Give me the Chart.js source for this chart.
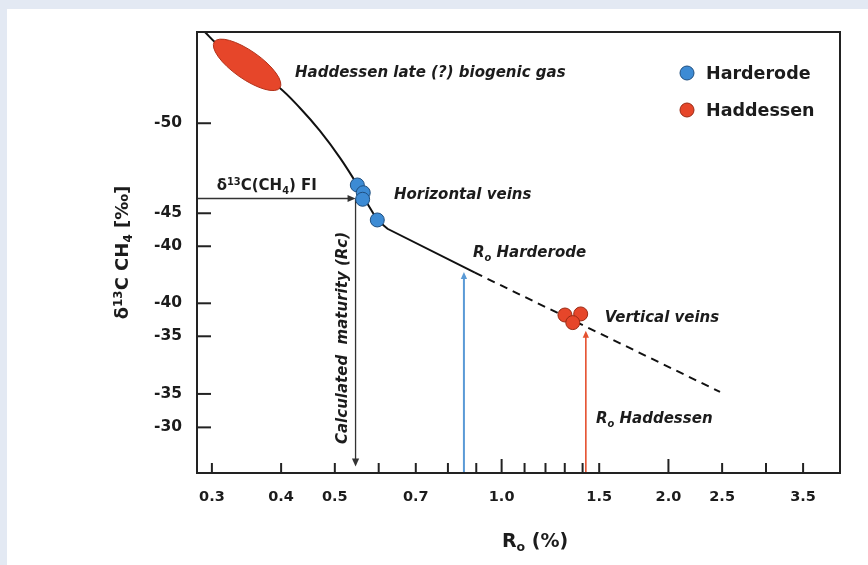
<!DOCTYPE html>
<html>
<head>
<meta charset="utf-8">
<script src="https://cdn.jsdelivr.net/npm/chart.js@4.4.1/dist/chart.umd.min.js"></script>
<style>
  html, body { margin: 0; padding: 0; background: #ffffff; }
  #wrap { width: 868px; height: 565px; }
</style>
</head>
<body>
<div id="wrap"><canvas id="c" width="868" height="565"></canvas></div>
<script>
// ---------------- data ----------------
// curved part of the Ro – δ13C(CH4) relation (down to the horizontal-vein samples)
const curveRo   = [0.2914, 0.3051, 0.3467, 0.3953, 0.4326, 0.4701, 0.5109, 0.5490, 0.5620, 0.5965];
const curveD13C = [-56.0, -55.28, -53.83, -52.40, -51.00, -49.49, -47.72, -45.94, -45.22, -43.64];
// straight part
const lineRo    = [0.5965, 0.6224, 0.8950];
const lineD13C  = [-43.64, -43.06, -40.17];
// dashed extrapolation
const dashRo    = [0.8950, 2.478];
const dashD13C  = [-40.17, -32.33];

const harderodeRo   = [0.549, 0.5627, 0.5613, 0.5965];
const harderodeD13C = [-45.94, -45.43, -45.00, -43.64];
const haddessenRo   = [1.301, 1.389, 1.344];
const haddessenD13C = [-37.39, -37.46, -36.89];

// biogenic gas field: ends of the ellipse's long axis
const biogenicRo   = [0.3051, 0.3953];
const biogenicD13C = [-55.28, -52.40];

const xTickValues = [0.3, 0.4, 0.5, 0.6, 0.7, 0.8, 0.9, 1.0, 1.1, 1.2, 1.3, 1.4, 1.5, 2.0, 2.5, 3.0, 3.5];
const xTickLabels = ['0.3', '0.4', '0.5', '', '0.7', '', '', '1.0', '', '', '', '', '1.5', '2.0', '2.5', '', '3.5'];
const yTickValues = [-50, -44.08, -41.91, -38.16, -35.99, -32.20, -30];
const yTickLabels = ['-50', '-45', '-40', '-40', '-35', '-35', '-30'];

// reference arrows
const fiD13C = -45.05;          // δ13C(CH4) of fluid inclusions
const rcRo = 0.545;             // calculated maturity
const rcArrowEndD13C = -27.42;
const roHarderode = 0.855, roHarderodeTipD13C = -40.22;
const roHaddessen = 1.419, roHaddessenTipD13C = -36.36;

const seriesNames = ['Harderode', 'Haddessen'];

// ---------------- styles ----------------
const FONT = '"DejaVu Sans", "Liberation Sans", Arial, sans-serif';
const BLUE = '#3d8bd4', BLUE_EDGE = '#1f4f80';
const RED = '#e6462a', RED_EDGE = '#9a2a14';
const INK = '#1c1c1c';

const notes = [
  { segs: [{ t: 'Haddessen late (?) biogenic gas' }], ro: 0.4238, d: -53.39, italic: true },
  { segs: [{ t: 'Horizontal veins' }], ro: 0.6393, d: -45.4, italic: true },
  { segs: [{ t: 'R' }, { t: 'o', sub: true }, { t: ' Harderode' }], ro: 0.8878, d: -41.54, italic: true },
  { segs: [{ t: 'Vertical veins' }], ro: 1.535, d: -37.26, italic: true },
  { segs: [{ t: 'R' }, { t: 'o', sub: true }, { t: ' Haddessen' }], ro: 1.480, d: -30.62, italic: true },
  { segs: [{ t: 'δ' }, { t: '13', sup: true }, { t: 'C(CH' }, { t: '4', sub: true }, { t: ') FI' }], ro: 0.306, d: -45.94, italic: false },
  { segs: [{ t: 'Calculated  maturity (Rc)' }], ro: 0.5144, d: -35.88, italic: true, rotate: true }
];

function fontFor(seg, size, italic) {
  const s = (seg.sub || seg.sup) ? size * 0.66 : size;
  return (italic ? 'italic ' : '') + 'bold ' + s.toFixed(1) + 'px ' + FONT;
}
function richWidth(ctx, segs, size, italic) {
  let w = 0;
  for (const s of segs) { ctx.font = fontFor(s, size, italic); w += ctx.measureText(s.t).width; }
  return w;
}
// draws rich text whose vertical centre is at y (of caps)
function drawRich(ctx, segs, x, y, size, italic, align) {
  const w = richWidth(ctx, segs, size, italic);
  let cx = align === 'center' ? x - w / 2 : x;
  const base = y + size * 0.36;
  ctx.textBaseline = 'alphabetic';
  ctx.textAlign = 'left';
  for (const s of segs) {
    ctx.font = fontFor(s, size, italic);
    let dy = 0;
    if (s.sub) dy = size * 0.22;
    if (s.sup) dy = -size * 0.38;
    ctx.fillText(s.t, cx, base + dy);
    cx += ctx.measureText(s.t).width;
  }
}
function arrow(ctx, x1, y1, x2, y2, color, lw, head) {
  ctx.save();
  ctx.strokeStyle = color; ctx.fillStyle = color; ctx.lineWidth = lw;
  const a = Math.atan2(y2 - y1, x2 - x1);
  ctx.beginPath();
  ctx.moveTo(x1, y1);
  ctx.lineTo(x2 - Math.cos(a) * head * 0.8, y2 - Math.sin(a) * head * 0.8);
  ctx.stroke();
  ctx.beginPath();
  ctx.moveTo(x2, y2);
  ctx.lineTo(x2 - head * Math.cos(a) + head * 0.45 * Math.sin(a), y2 - head * Math.sin(a) - head * 0.45 * Math.cos(a));
  ctx.lineTo(x2 - head * Math.cos(a) - head * 0.45 * Math.sin(a), y2 - head * Math.sin(a) + head * 0.45 * Math.cos(a));
  ctx.closePath();
  ctx.fill();
  ctx.restore();
}

const decor = {
  id: 'decor',
  beforeDraw(chart) {
    const ctx = chart.ctx;
    ctx.save();
    ctx.fillStyle = '#e3e9f3';
    ctx.fillRect(0, 0, chart.width, chart.height);
    ctx.fillStyle = '#ffffff';
    ctx.fillRect(7, 9, chart.width - 7, chart.height - 9);
    ctx.restore();
  },
  beforeDatasetsDraw(chart) {
    const ctx = chart.ctx, xs = chart.scales.x, ys = chart.scales.y, ca = chart.chartArea;
    const xr = xs.getPixelForValue(rcRo), yfi = ys.getPixelForValue(fiD13C);
    arrow(ctx, ca.left, yfi, xr, yfi, '#333333', 1.3, 8);
    arrow(ctx, xr, yfi, xr, ys.getPixelForValue(rcArrowEndD13C), '#333333', 1.3, 8);
    const xb = xs.getPixelForValue(roHarderode);
    arrow(ctx, xb, ca.bottom, xb, ys.getPixelForValue(roHarderodeTipD13C), '#5a9ad6', 2, 7);
    const xh = xs.getPixelForValue(roHaddessen);
    arrow(ctx, xh, ca.bottom, xh, ys.getPixelForValue(roHaddessenTipD13C), '#e5512f', 1.6, 7);
  },
  afterDatasetsDraw(chart) {
    const ctx = chart.ctx, xs = chart.scales.x, ys = chart.scales.y, ca = chart.chartArea;
    // biogenic gas ellipse
    const x1 = xs.getPixelForValue(biogenicRo[0]), y1 = ys.getPixelForValue(biogenicD13C[0]);
    const x2 = xs.getPixelForValue(biogenicRo[1]), y2 = ys.getPixelForValue(biogenicD13C[1]);
    const cx = (x1 + x2) / 2, cy = (y1 + y2) / 2;
    const rx = Math.hypot(x2 - x1, y2 - y1) / 2, rot = Math.atan2(y2 - y1, x2 - x1);
    ctx.save();
    ctx.beginPath();
    ctx.ellipse(cx, cy, rx + 2, 14, rot, 0, Math.PI * 2);
    ctx.fillStyle = RED; ctx.fill();
    ctx.lineWidth = 1; ctx.strokeStyle = '#b2321a'; ctx.stroke();
    ctx.restore();

    // frame
    ctx.save();
    ctx.strokeStyle = '#222222'; ctx.lineWidth = 2;
    ctx.strokeRect(ca.left, ca.top, ca.right - ca.left, ca.bottom - ca.top);
    // inward ticks
    for (const v of xTickValues) {
      const x = xs.getPixelForValue(v);
      const len = (v === 1.0 || v === 2.0) ? 14 : 10;
      ctx.beginPath(); ctx.moveTo(x, ca.bottom); ctx.lineTo(x, ca.bottom - len); ctx.stroke();
    }
    for (const v of yTickValues) {
      const y = ys.getPixelForValue(v);
      ctx.beginPath(); ctx.moveTo(ca.left, y); ctx.lineTo(ca.left + 14, y); ctx.stroke();
    }
    ctx.restore();

    // annotations
    ctx.save();
    ctx.fillStyle = INK;
    for (const n of notes) {
      const x = xs.getPixelForValue(n.ro), y = ys.getPixelForValue(n.d);
      if (n.rotate) {
        ctx.save(); ctx.translate(x, y); ctx.rotate(-Math.PI / 2);
        drawRich(ctx, n.segs, 0, 0, 15, n.italic, 'center');
        ctx.restore();
      } else {
        drawRich(ctx, n.segs, x, y, 15, n.italic, 'left');
      }
    }
    // legend
    const legendColors = [[BLUE, BLUE_EDGE], [RED, RED_EDGE]];
    seriesNames.forEach((name, i) => {
      const ly = 73 + i * 37;
      ctx.beginPath(); ctx.arc(687, ly, 7, 0, Math.PI * 2);
      ctx.fillStyle = legendColors[i][0]; ctx.fill();
      ctx.lineWidth = 1; ctx.strokeStyle = legendColors[i][1]; ctx.stroke();
      ctx.fillStyle = INK;
      drawRich(ctx, [{ t: name }], 706, ly, 17.5, false, 'left');
    });
    // axis titles
    ctx.save();
    ctx.translate(122, (ca.top + ca.bottom) / 2);
    ctx.rotate(-Math.PI / 2);
    drawRich(ctx, [{ t: 'δ' }, { t: '13', sup: true }, { t: 'C CH' }, { t: '4', sub: true }, { t: ' [‰]' }], 0, 0, 18, false, 'center');
    ctx.restore();
    drawRich(ctx, [{ t: 'R' }, { t: 'o', sub: true }, { t: ' (%)' }], 535, 540, 19, false, 'center');
    ctx.restore();
  }
};

const toXY = (xs, ys) => xs.map((v, i) => ({ x: v, y: ys[i] }));

new Chart(document.getElementById('c'), {
  type: 'scatter',
  data: {
    datasets: [
      { label: seriesNames[0], data: toXY(harderodeRo, harderodeD13C), order: 1,
        pointRadius: 7, pointBackgroundColor: BLUE, pointBorderColor: BLUE_EDGE, pointBorderWidth: 1, showLine: false },
      { label: seriesNames[1], data: toXY(haddessenRo, haddessenD13C), order: 1,
        pointRadius: 7, pointBackgroundColor: RED, pointBorderColor: RED_EDGE, pointBorderWidth: 1, showLine: false },
      { label: 'trend', data: toXY(curveRo, curveD13C), order: 2, showLine: true, pointRadius: 0,
        borderColor: '#111111', borderWidth: 2, tension: 0.4, fill: false },
      { label: 'trend (linear)', data: toXY(lineRo, lineD13C), order: 2, showLine: true, pointRadius: 0,
        borderColor: '#111111', borderWidth: 2, tension: 0, fill: false },
      { label: 'trend (extrapolated)', data: toXY(dashRo, dashD13C), order: 2, showLine: true, pointRadius: 0,
        borderColor: '#111111', borderWidth: 2, borderDash: [8, 6], fill: false }
    ]
  },
  options: {
    responsive: false,
    devicePixelRatio: 1,
    animation: false,
    layout: { padding: { top: 32, right: 28, left: 0, bottom: 0 } },
    plugins: { legend: { display: false }, tooltip: { enabled: false } },
    scales: {
      x: {
        type: 'logarithmic', min: 0.282, max: 4.08, position: 'bottom',
        afterBuildTicks: s => { s.ticks = xTickValues.map(v => ({ value: v })); },
        afterFit: s => { s.height = 92; },
        grid: { display: false, drawTicks: false },
        border: { display: false },
        ticks: {
          autoSkip: false, maxRotation: 0, padding: 16, color: INK,
          font: { family: FONT, weight: 'bold', size: 14.5 },
          callback: (v, i) => xTickLabels[i]
        }
      },
      y: {
        type: 'linear', reverse: true, min: -56, max: -27,
        afterBuildTicks: s => { s.ticks = yTickValues.map(v => ({ value: v })); },
        afterFit: s => { s.width = 197; },
        grid: { display: false, drawTicks: false },
        border: { display: false },
        ticks: {
          padding: 15, color: INK,
          font: { family: FONT, weight: 'bold', size: 15.5 },
          callback: (v, i) => yTickLabels[i]
        }
      }
    }
  },
  plugins: [decor]
});
</script>
</body>
</html>
